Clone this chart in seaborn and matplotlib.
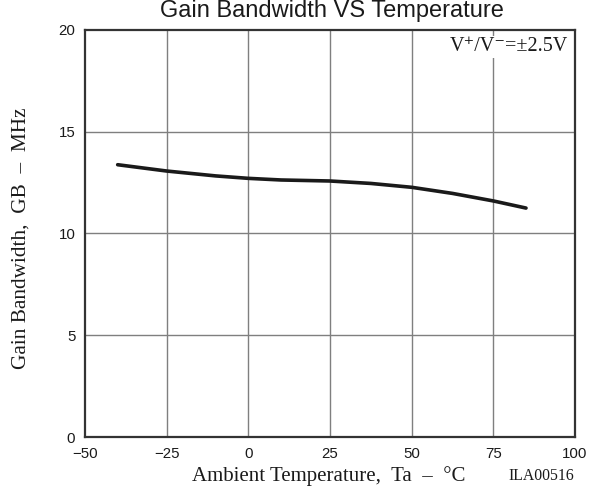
import matplotlib
matplotlib.use("Agg")
import matplotlib.pyplot as plt
import seaborn as sns
import pandas as pd

temperature = [-40, -25, -10, 0, 10, 25, 37.5, 50, 62.5, 75, 85]
gain_bw = [13.38, 13.07, 12.83, 12.71, 12.63, 12.58, 12.46, 12.27, 11.97, 11.6, 11.25]
x_ticks = [-50, -25, 0, 25, 50, 75, 100]
x_tick_labels = ["\u221250", "\u221225", "0", "25", "50", "75", "100"]
y_ticks = [0, 5, 10, 15, 20]

sns.set_style("white")
plt.rcParams["font.family"] = ["Liberation Sans", "DejaVu Sans"]

df = pd.DataFrame({"Ta": temperature, "GB": gain_bw})

fig = plt.figure(figsize=(5.92, 4.86), dpi=100)
ax = fig.add_axes([85/592, 49/486, 490/592, 407/486])

for xv in x_ticks[1:-1]:
    ax.axvline(xv, color="#7f7f7f", lw=1.0, zorder=1)
for yv in y_ticks[1:-1]:
    ax.axhline(yv, color="#7f7f7f", lw=1.0, zorder=1)

sns.lineplot(data=df, x="Ta", y="GB", ax=ax, color="#1a1a1a", lw=2.6, zorder=3)

ax.set_xlim(-50, 100)
ax.set_ylim(0, 20)
ax.set_xticks(x_ticks)
ax.set_xticklabels(x_tick_labels)
ax.set_yticks(y_ticks)
ax.tick_params(axis="both", length=0, labelsize=10.8, colors="#1a1a1a")
ax.tick_params(axis="x", pad=7)
ax.tick_params(axis="y", pad=7)
for s in ax.spines.values():
    s.set_color("#333333")
    s.set_linewidth(1.6)

ax.set_xlabel("")
ax.set_ylabel("")

serif = ["Liberation Serif", "DejaVu Serif"]
fig.text(21/592, 1 - 238/486, "Gain Bandwidth,  GB  \u2013  MHz", rotation=90,
         ha="center", va="center", fontsize=15.3, family=serif, color="#1a1a1a")
fig.text(329/592, 1 - 481/486, "Ambient Temperature,  Ta  \u2013  \u00b0C",
         ha="center", va="baseline", fontsize=15, family=serif, color="#1a1a1a")
fig.text(574/592, 1 - 480/486, "ILA00516", ha="right", va="baseline",
         fontsize=11.3, family=serif, color="#1a1a1a")
fig.text(332/592, 1 - 17/486, "Gain Bandwidth VS Temperature", ha="center",
         va="baseline", fontsize=17, color="#1a1a1a")

ax.text(0.986, 0.982, "V\u207a/V\u207b=\u00b12.5V", transform=ax.transAxes,
        ha="right", va="top", fontsize=14.5, family=serif, color="#1a1a1a",
        bbox=dict(facecolor="white", edgecolor="none", pad=1), zorder=4)

fig.savefig("out.png", dpi=100)
